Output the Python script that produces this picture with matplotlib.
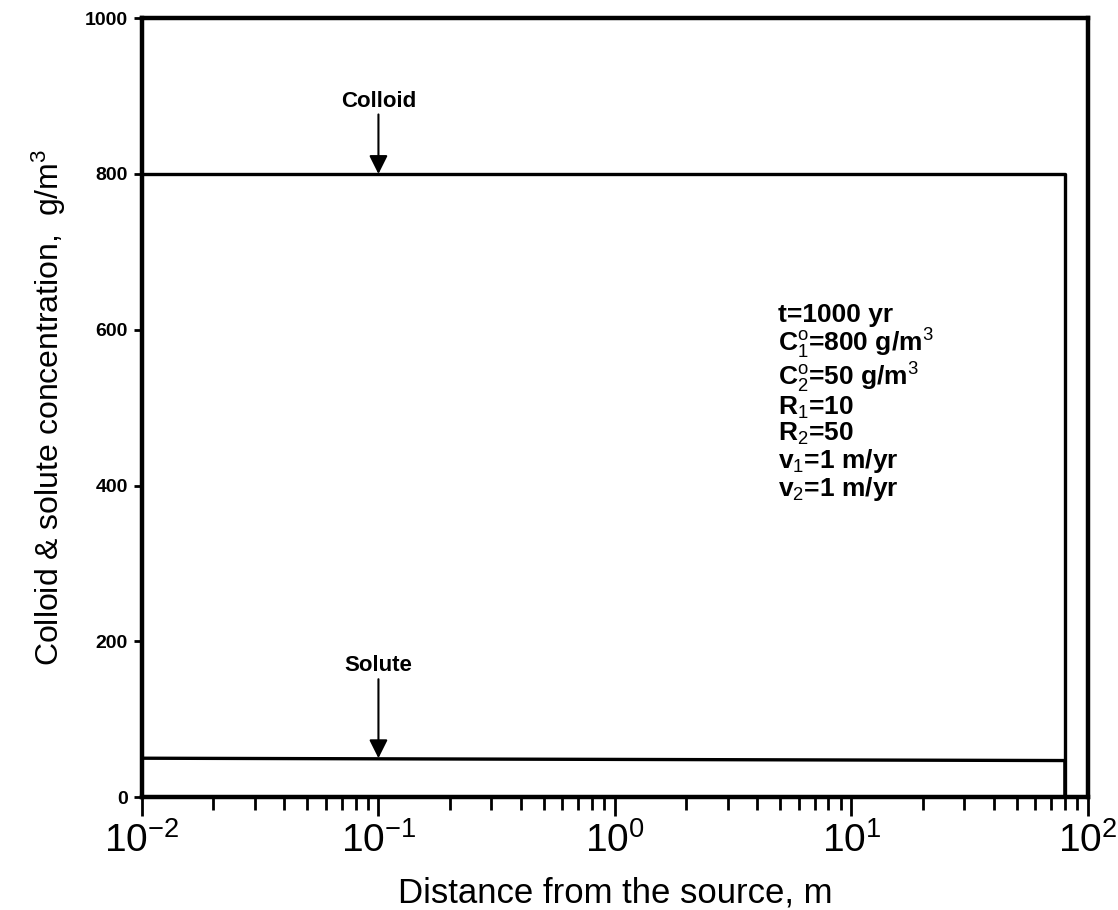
import matplotlib
matplotlib.use("Agg")
import matplotlib.pyplot as plt
from matplotlib.ticker import LogLocator, NullFormatter

plt.rcParams['font.family'] = ['Liberation Sans', 'DejaVu Sans']
plt.rcParams['mathtext.fontset'] = 'custom'
plt.rcParams['mathtext.rm'] = 'Liberation Sans'
plt.rcParams['mathtext.it'] = 'Liberation Sans'
plt.rcParams['mathtext.bf'] = 'Liberation Sans:bold'

# Data
colloid_x = [0.01, 80, 80]
colloid_y = [800, 800, 0]
solute_x = [0.01, 80, 80]
solute_y = [50, 47, 0]
yticks = [0, 200, 400, 600, 800, 1000]
params = ["t=1000 yr", r"C$_1^o$=800 g/m$^3$", r"C$_2^o$=50 g/m$^3$",
          r"R$_1$=10", r"R$_2$=50", r"v$_1$=1 m/yr", r"v$_2$=1 m/yr"]

fig = plt.figure(figsize=(11.18, 9.10), dpi=100)
ax = fig.add_axes([0.127, 0.124, 0.846, 0.856])
ax.set_xscale('log')
ax.set_xlim(0.01, 100)
ax.set_ylim(0, 1000)

ax.plot(colloid_x, colloid_y, color='black', lw=2.4)
ax.plot(solute_x, solute_y, color='black', lw=2.4)

for s in ax.spines.values():
    s.set_linewidth(3.2)

ax.set_yticks(yticks)
ax.set_yticklabels([str(v) for v in yticks], fontsize=14, fontweight='bold')
ax.xaxis.set_major_locator(LogLocator(base=10, numticks=10))
ax.xaxis.set_minor_locator(LogLocator(base=10, subs=range(2, 10), numticks=10))
ax.xaxis.set_minor_formatter(NullFormatter())
ax.tick_params(axis='x', which='major', direction='out', length=14, width=2, labelsize=28, pad=4)
ax.tick_params(axis='x', which='minor', direction='out', length=9, width=2)
ax.tick_params(axis='y', which='major', direction='out', length=6, width=2, pad=4)

ax.set_xlabel("Distance from the source, m", fontsize=25, labelpad=12)
ax.set_ylabel(r"Colloid & solute concentration,  g/m$^3$", fontsize=23, labelpad=12)

ax.annotate("Colloid", xy=(0.1, 800), xytext=(0.1, 880), ha='center', va='bottom',
            fontsize=16, fontweight='bold',
            arrowprops=dict(arrowstyle='-|>', color='black', lw=1.5,
                            mutation_scale=28, shrinkA=0, shrinkB=0))
ax.annotate("Solute", xy=(0.1, 50), xytext=(0.1, 155), ha='center', va='bottom',
            fontsize=16, fontweight='bold',
            arrowprops=dict(arrowstyle='-|>', color='black', lw=1.5,
                            mutation_scale=28, shrinkA=0, shrinkB=0))

ax.text(0.672, 0.635, "\n".join(params), transform=ax.transAxes, ha='left', va='top',
        fontsize=19, fontweight='bold', linespacing=1.0)

fig.savefig("out.png", dpi=100)
